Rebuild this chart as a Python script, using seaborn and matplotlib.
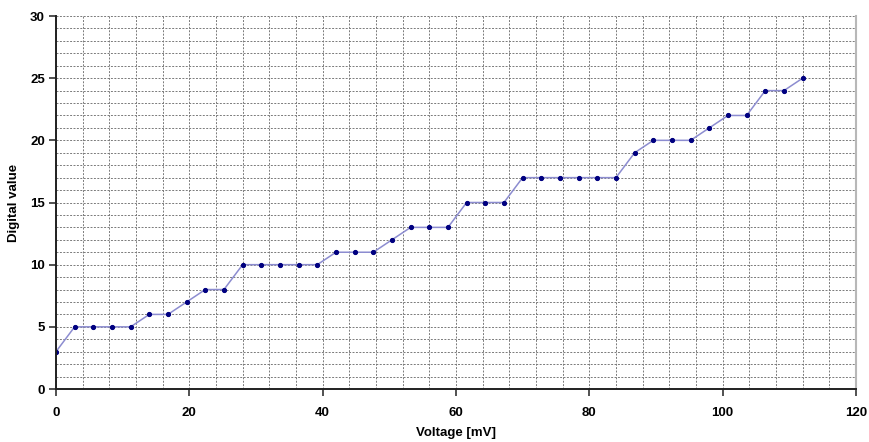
import numpy as np
import pandas as pd
import matplotlib
matplotlib.use("Agg")
import matplotlib.pyplot as plt
import seaborn as sns
from matplotlib.ticker import MultipleLocator

# Measured ADC output versus input voltage
voltage_mv = [0, 2.8, 5.6, 8.4, 11.2, 14, 16.8, 19.6, 22.4, 25.2,
              28, 30.8, 33.6, 36.4, 39.2, 42, 44.8, 47.6, 50.4, 53.2,
              56, 58.8, 61.6, 64.4, 67.2, 70, 72.8, 75.6, 78.4, 81.2,
              84, 86.8, 89.6, 92.4, 95.2, 98, 100.8, 103.6, 106.4, 109.2, 112]
digital_value = [3, 5, 5, 5, 5, 6, 6, 7, 8, 8,
                 10, 10, 10, 10, 10, 11, 11, 11, 12, 13,
                 13, 13, 15, 15, 15, 17, 17, 17, 17, 17,
                 17, 19, 20, 20, 20, 21, 22, 22, 24, 24, 25]

df = pd.DataFrame({"Voltage [mV]": voltage_mv, "Digital value": digital_value})

sns.set_style("white")
plt.rcParams["font.family"] = ["Liberation Sans", "DejaVu Sans"]
plt.rcParams["text.color"] = "black"
plt.rcParams["axes.labelcolor"] = "black"
plt.rcParams["xtick.color"] = "black"
plt.rcParams["ytick.color"] = "black"

fig = plt.figure(figsize=(8.69, 4.42), dpi=100)
ax = fig.add_axes([0.0644, 0.1199, 0.9206, 0.8439])

sns.lineplot(data=df, x="Voltage [mV]", y="Digital value", ax=ax,
             color="#8c8cd0", linewidth=1.1, marker="o", markersize=3.0,
             markerfacecolor="#000080", markeredgecolor="#000080")

ax.set_xlim(0, 120)
ax.set_ylim(0, 30)
ax.xaxis.set_major_locator(MultipleLocator(20))
ax.xaxis.set_minor_locator(MultipleLocator(4))
ax.yaxis.set_major_locator(MultipleLocator(5))
ax.yaxis.set_minor_locator(MultipleLocator(1))

ax.grid(which="both", axis="both", color="#7a7a7a", linestyle=(0, (2, 1.5)),
        linewidth=0.7)
ax.set_axisbelow(True)

for side in ("left", "bottom"):
    ax.spines[side].set_color("#202020")
    ax.spines[side].set_linewidth(1.4)
ax.spines["top"].set_visible(False)
ax.spines["right"].set_color("#b8b8b8")
ax.spines["right"].set_linewidth(1.5)

ax.tick_params(which="major", direction="out", length=5, width=1.1,
               color="#202020", labelsize=9.5, left=True, bottom=True)
ax.tick_params(axis="x", which="major", pad=8)
ax.tick_params(axis="y", which="major", pad=3)
ax.tick_params(which="minor", length=0)
for lbl in ax.get_xticklabels() + ax.get_yticklabels():
    lbl.set_fontweight("bold")

ax.set_xlabel("Voltage [mV]", fontsize=9.5, fontweight="bold", labelpad=6)
ax.set_ylabel("Digital value", fontsize=9.5, fontweight="bold", labelpad=7)

fig.savefig("out.png", dpi=100, facecolor="white")
